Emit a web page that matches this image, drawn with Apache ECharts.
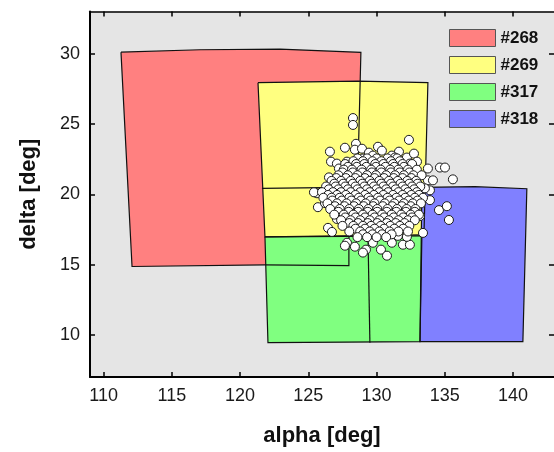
<!DOCTYPE html>
<html>
<head>
<meta charset="utf-8">
<script src="https://cdn.jsdelivr.net/npm/echarts@6/dist/echarts.min.js"></script>
<style>
  html, body { margin: 0; padding: 0; background: #ffffff; }
  #chart { width: 554px; height: 452px; }
</style>
</head>
<body>
<div id="chart"></div>
<script>
// Axis ticks
const xTicks = [110, 115, 120, 125, 130, 135, 140];
const yTicks = [10, 15, 20, 25, 30];

// Field names and fill colours
const fieldNames = ['#268', '#269', '#317', '#318'];
const fieldColors = ['#ff8080', '#ffff80', '#80ff80', '#8080ff'];

// Field footprints on the sky [alpha, delta] in degrees
const field268 = [[111.27, 30.11], [117.06, 30.28], [122.92, 30.33], [128.85, 30.09],
  [128.60, 20.42], [127.97, 16.90], [127.97, 14.93], [121.82, 14.98], [112.08, 14.86]];
const field269 = [[121.31, 27.94], [128.63, 28.05], [133.76, 27.94], [133.47, 17.04], [121.82, 16.97]];
const field317 = [[121.82, 16.97], [133.32, 17.11], [133.18, 9.51], [122.04, 9.44]];
const field318 = [[133.32, 20.49], [137.21, 20.54], [141.01, 20.39], [140.72, 9.51], [133.18, 9.51]];

// Inner chip borders
const split269 = [[121.60, 20.42], [133.54, 20.56]];
const split317 = [[129.37, 16.97], [129.51, 9.44]];

// Source positions [alpha, delta]
const sourcesOuter = [
  [128.27, 25.42], [128.27, 24.93], [128.49, 23.59], [127.68, 23.31], [126.58, 23.03],
  [128.41, 23.17], [128.93, 23.24], [132.37, 23.87], [130.10, 23.38], [130.39, 23.10],
  [131.64, 23.03], [129.44, 22.96], [126.66, 22.32], [127.09, 22.18], [127.24, 21.83],
  [127.83, 22.32], [128.27, 22.25], [129.00, 22.54], [129.73, 22.75], [131.12, 22.75],
  [131.34, 22.61], [132.22, 22.61], [132.74, 22.89], [132.96, 22.32], [132.44, 22.18],
  [133.76, 21.83], [134.64, 21.90], [135.01, 21.90], [135.59, 21.06], [133.76, 20.99],
  [134.13, 20.99], [133.18, 21.34], [126.51, 21.20], [127.53, 21.48], [125.63, 20.07],
  [125.41, 20.14], [125.70, 19.08], [126.22, 19.37], [126.44, 17.61], [126.73, 17.32],
  [127.09, 18.24], [127.83, 16.55], [127.68, 16.34], [128.41, 16.27], [129.22, 16.06],
  [129.00, 15.85], [130.32, 16.06], [130.76, 15.63], [129.73, 16.55], [131.12, 16.55],
  [131.93, 16.41], [132.44, 16.41], [132.22, 16.97], [131.56, 17.04], [133.40, 17.25],
  [133.18, 18.45], [133.91, 19.58], [134.57, 18.87], [135.15, 19.15], [135.30, 18.17],
  [133.91, 20.28], [133.54, 20.42]
];

// Dense core, listed row by row: [delta, alpha, alpha, ...]
const sourcesCore = [
  [22.55, 128.6, 129.3, 130.0, 130.8, 131.5],
  [22.35, 128.3, 129.0, 129.7, 130.35, 131.05, 131.7],
  [22.15, 127.7, 128.5, 129.1, 129.9, 130.5, 131.2, 131.9, 132.6],
  [21.95, 127.9, 128.55, 129.25, 129.95, 130.65, 131.3, 132.0],
  [21.75, 127.6, 128.2, 128.9, 129.6, 130.3, 131.0, 131.6, 132.3, 132.95],
  [21.55, 127.5, 128.25, 128.95, 129.65, 130.35, 131.05, 131.7, 132.4],
  [21.35, 127.2, 127.9, 128.6, 129.3, 129.95, 130.7, 131.35, 132.0, 132.7, 133.3],
  [21.15, 127.05, 127.75, 128.45, 129.15, 129.85, 130.55, 131.25, 131.9, 132.55],
  [20.95, 126.7, 127.4, 128.1, 128.8, 129.5, 130.2, 130.9, 131.55, 132.25, 132.9],
  [20.75, 126.9, 127.55, 128.25, 128.95, 129.65, 130.35, 131.05, 131.75, 132.4, 133.0],
  [20.55, 126.3, 127.0, 127.7, 128.45, 129.1, 129.8, 130.5, 131.2, 131.9, 132.6, 133.2],
  [20.35, 126.5, 127.2, 127.9, 128.6, 129.3, 130.0, 130.7, 131.4, 132.1, 132.75],
  [20.15, 126.0, 126.8, 127.4, 128.1, 128.8, 129.5, 130.2, 130.85, 131.6, 132.3, 132.95],
  [19.95, 126.45, 127.1, 127.75, 128.45, 129.15, 129.8, 130.5, 131.2, 131.9, 132.55, 133.1],
  [19.75, 126.1, 126.7, 127.3, 128.0, 128.7, 129.4, 130.1, 130.8, 131.45, 132.1, 132.8, 133.4],
  [19.55, 126.75, 127.45, 128.15, 128.85, 129.55, 130.25, 130.95, 131.65, 132.35, 133.0],
  [19.35, 126.4, 127.1, 127.8, 128.5, 129.2, 129.85, 130.6, 131.3, 132.0, 132.65, 133.25],
  [19.15, 126.95, 127.65, 128.35, 129.05, 129.75, 130.45, 131.15, 131.85, 132.5],
  [18.95, 126.6, 127.3, 128.0, 128.7, 129.4, 130.05, 130.8, 131.5, 132.2, 132.85],
  [18.75, 127.2, 127.95, 128.65, 129.35, 130.05, 130.75, 131.45, 132.15, 132.8],
  [18.55, 126.9, 127.6, 128.3, 129.0, 129.7, 130.4, 131.1, 131.8, 132.5, 133.1],
  [18.35, 127.7, 128.45, 129.15, 129.85, 130.55, 131.25, 131.95, 132.6],
  [18.15, 127.4, 128.1, 128.8, 129.5, 130.2, 130.9, 131.6, 132.3, 132.8],
  [17.95, 128.0, 128.65, 129.35, 130.05, 130.75, 131.4, 132.05],
  [17.75, 127.5, 128.3, 129.0, 129.6, 130.3, 131.0, 131.7, 132.4],
  [17.55, 128.45, 129.15, 129.85, 130.55, 131.3, 131.95],
  [17.35, 128.0, 128.8, 129.5, 130.2, 130.95, 131.6, 132.3],
  [17.15, 129.0, 129.7, 130.4, 131.1],
  [16.95, 128.6, 129.3, 130.0, 130.7]
];

const fields = [field268, field269, field317, field318];
const outlines = [
  field268.concat([field268[0]]),
  field269.concat([field269[0]]),
  field317.concat([field317[0]]),
  field318.concat([field318[0]]),
  split269,
  split317
];

const sources = sourcesOuter.slice();
sourcesCore.forEach(function (row) {
  for (let i = 1; i < row.length; i++) sources.push([row[i], row[0]]);
});

const FONT = '"Liberation Sans", Arial, sans-serif';
const chart = echarts.init(document.getElementById('chart'), null, { renderer: 'canvas' });

function fillSeries(idx) {
  return {
    type: 'custom',
    name: fieldNames[idx],
    coordinateSystem: 'cartesian2d',
    itemStyle: { color: fieldColors[idx] },
    data: [[0, 0]],
    silent: true,
    z: 2,
    renderItem: function (params, api) {
      const pts = fields[idx].map(function (p) { return api.coord(p); });
      return {
        type: 'polygon',
        shape: { points: pts },
        style: { fill: fieldColors[idx], stroke: null }
      };
    }
  };
}

const axisLabelStyle = { fontFamily: FONT, fontSize: 18, color: '#1a1a1a' };

chart.setOption({
  animation: false,
  backgroundColor: '#ffffff',
  grid: {
    left: 90, right: 0, top: 11.5, bottom: 72,
    show: true, backgroundColor: '#e5e5e5', borderWidth: 0
  },
  legend: {
    orient: 'vertical',
    left: 449, top: 29,
    padding: 0,
    itemWidth: 46, itemHeight: 17, itemGap: 9,
    selectedMode: false,
    textStyle: { fontFamily: FONT, fontSize: 17, fontWeight: 'bold', color: '#111' },
    data: fieldNames.map(function (n, i) {
      return { name: n, icon: 'rect',
        itemStyle: { color: fieldColors[i], borderColor: '#555', borderWidth: 1 } };
    })
  },
  xAxis: [{
    type: 'value', position: 'bottom', min: 109, max: 143,
    name: 'alpha [deg]', nameLocation: 'middle', nameGap: 48,
    nameTextStyle: { fontFamily: FONT, fontSize: 22, fontWeight: 'bold', color: '#111' },
    axisLine: { show: true, onZero: false, lineStyle: { color: '#000', width: 2 } },
    axisTick: { show: true, inside: true, length: 5, customValues: xTicks, lineStyle: { color: '#000', width: 1.5 } },
    axisLabel: Object.assign({ margin: 10, customValues: xTicks }, axisLabelStyle),
    splitLine: { show: false }
  }, {
    type: 'value', position: 'top', min: 109, max: 143,
    axisLine: { show: true, onZero: false, lineStyle: { color: '#000', width: 1.5 } },
    axisTick: { show: true, inside: true, length: 5, customValues: xTicks, lineStyle: { color: '#000', width: 1.5 } },
    axisLabel: { show: false },
    splitLine: { show: false }
  }],
  yAxis: [{
    type: 'value', position: 'left', min: 7, max: 33,
    name: 'delta [deg]', nameLocation: 'middle', nameGap: 50, nameRotate: 90,
    nameTextStyle: { fontFamily: FONT, fontSize: 22, fontWeight: 'bold', color: '#111' },
    axisLine: { show: true, onZero: false, lineStyle: { color: '#000', width: 2 } },
    axisTick: { show: true, inside: true, length: 5, customValues: yTicks, lineStyle: { color: '#000', width: 1.5 } },
    axisLabel: Object.assign({ margin: 10, customValues: yTicks }, axisLabelStyle),
    splitLine: { show: false }
  }, {
    type: 'value', position: 'right', min: 7, max: 33,
    axisLine: { show: false },
    axisTick: { show: true, inside: true, length: 5, customValues: yTicks, lineStyle: { color: '#000', width: 1.5 } },
    axisLabel: { show: false },
    splitLine: { show: false }
  }],
  series: [
    fillSeries(0), fillSeries(1), fillSeries(2), fillSeries(3),
    {
      type: 'custom',
      name: 'outlines',
      coordinateSystem: 'cartesian2d',
      data: [[0, 0]],
      silent: true,
      z: 3,
      renderItem: function (params, api) {
        return {
          type: 'group',
          children: outlines.map(function (line) {
            return {
              type: 'polyline',
              shape: { points: line.map(function (p) { return api.coord(p); }) },
              style: { stroke: '#111', lineWidth: 1.2, fill: null }
            };
          })
        };
      }
    },
    {
      type: 'scatter',
      name: 'sources',
      data: sources,
      symbol: 'circle',
      symbolSize: 9,
      z: 4,
      silent: true,
      itemStyle: { color: '#ffffff', borderColor: '#1a1a1a', borderWidth: 1, opacity: 1 }
    }
  ]
});
</script>
</body>
</html>
